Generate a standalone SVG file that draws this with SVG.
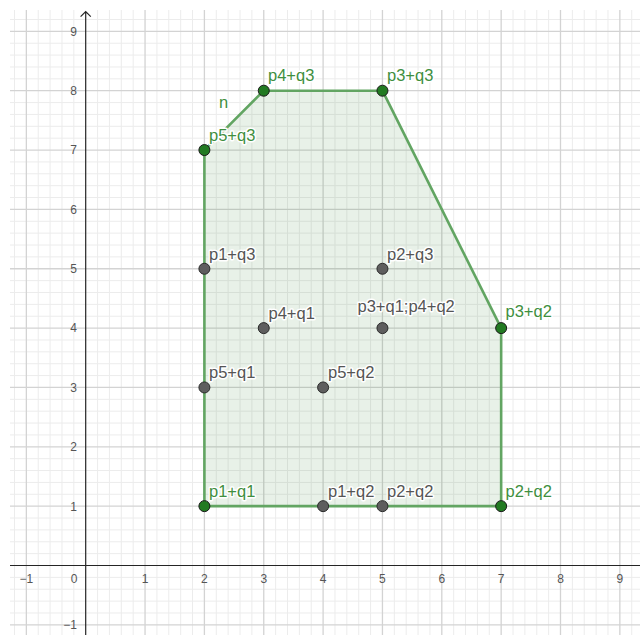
<svg xmlns="http://www.w3.org/2000/svg" width="640" height="635" viewBox="0 0 640 635">
<style>
.minor{stroke:#ececec;stroke-width:1;fill:none}
.major{stroke:#d3d3d3;stroke-width:1.3;fill:none}
.axis{stroke:#252525;stroke-width:1.2;fill:none}
.tick{font-family:"Liberation Sans",Arial,sans-serif;font-size:12px;fill:#555}
.tx{text-anchor:middle}
.ty{text-anchor:end}
.lbl{font-family:"Liberation Sans",Arial,sans-serif;font-size:16.5px;paint-order:stroke;stroke:#fff;stroke-width:3px;stroke-linejoin:round}
.lg{fill:#3f8f3f}
.lk{fill:#555}
.pg{fill:#227a22;stroke:#1a1a1a;stroke-width:1}
.pk{fill:#5e5e5e;stroke:#2a2a2a;stroke-width:1}
.edge{stroke:#62a562;stroke-width:2.6;fill:none;stroke-linejoin:round}
</style>
<rect width="640" height="635" fill="#fff"/>
<g id="grid">
<path class="minor" d="M14.48 10V635M38.22 10V635M50.09 10V635M61.96 10V635M73.83 10V635M97.57 10V635M109.44 10V635M121.31 10V635M133.18 10V635M156.92 10V635M168.79 10V635M180.66 10V635M192.53 10V635M216.27 10V635M228.14 10V635M240.01 10V635M251.88 10V635M275.62 10V635M287.49 10V635M299.36 10V635M311.23 10V635M334.97 10V635M346.84 10V635M358.71 10V635M370.58 10V635M394.32 10V635M406.19 10V635M418.06 10V635M429.93 10V635M453.67 10V635M465.54 10V635M477.41 10V635M489.28 10V635M513.02 10V635M524.89 10V635M536.76 10V635M548.63 10V635M572.37 10V635M584.24 10V635M596.11 10V635M607.98 10V635M631.72 10V635"/>
<path class="minor" d="M10 612.98H640M10 601.11H640M10 589.24H640M10 577.37H640M10 553.63H640M10 541.76H640M10 529.89H640M10 518.02H640M10 494.28H640M10 482.41H640M10 470.54H640M10 458.67H640M10 434.93H640M10 423.06H640M10 411.19H640M10 399.32H640M10 375.58H640M10 363.71H640M10 351.84H640M10 339.97H640M10 316.23H640M10 304.36H640M10 292.49H640M10 280.62H640M10 256.88H640M10 245.01H640M10 233.14H640M10 221.27H640M10 197.53H640M10 185.66H640M10 173.79H640M10 161.92H640M10 138.18H640M10 126.31H640M10 114.44H640M10 102.57H640M10 78.83H640M10 66.96H640M10 55.09H640M10 43.22H640M10 19.48H640"/>
<path class="major" d="M26.35 10V635M145.05 10V635M204.4 10V635M263.75 10V635M323.1 10V635M382.45 10V635M441.8 10V635M501.15 10V635M560.5 10V635M619.85 10V635"/>
<path class="major" d="M10 624.85H640M10 506.15H640M10 446.8H640M10 387.45H640M10 328.1H640M10 268.75H640M10 209.4H640M10 150.05H640M10 90.7H640M10 31.35H640"/>
</g>
<g id="axes">
<path class="axis" d="M10 565.5H640M85.7 635V11.5M80.6 16.6L85.7 11.5L90.8 16.6"/>
<text class="tick tx" x="26.35" y="582.5">−1</text>
<text class="tick tx" x="74" y="582.5">0</text>
<text class="tick tx" x="145.05" y="582.5">1</text>
<text class="tick tx" x="204.4" y="582.5">2</text>
<text class="tick tx" x="263.75" y="582.5">3</text>
<text class="tick tx" x="323.1" y="582.5">4</text>
<text class="tick tx" x="382.45" y="582.5">5</text>
<text class="tick tx" x="441.8" y="582.5">6</text>
<text class="tick tx" x="501.15" y="582.5">7</text>
<text class="tick tx" x="560.5" y="582.5">8</text>
<text class="tick tx" x="619.85" y="582.5">9</text>
<text class="tick ty" x="77" y="629.2">−1</text>
<text class="tick ty" x="77" y="510.5">1</text>
<text class="tick ty" x="77" y="451.1">2</text>
<text class="tick ty" x="77" y="391.8">3</text>
<text class="tick ty" x="77" y="332.4">4</text>
<text class="tick ty" x="77" y="273.1">5</text>
<text class="tick ty" x="77" y="213.7">6</text>
<text class="tick ty" x="77" y="154.4">7</text>
<text class="tick ty" x="77" y="95">8</text>
<text class="tick ty" x="77" y="35.7">9</text>
</g>
<g id="polygon">
<polygon points="204.4,506.15 501.15,506.15 501.15,328.1 382.45,90.7 263.75,90.7 204.4,150.05" fill="rgb(0,100,0)" fill-opacity="0.09" stroke="none"/>
</g>
<g id="connectors">
<path class="edge" d="M204.4 506.15H501.15V328.1L382.45 90.7H263.75L204.4 150.05Z"/>
</g>
<g id="label-n"><text class="lbl lg" x="219" y="108">n</text></g>
<g id="p1q3"><circle class="pk" cx="204.4" cy="268.75" r="5.5"/><text class="lbl lk" x="209" y="259.5">p1+q3</text></g>
<g id="p4q1"><circle class="pk" cx="263.75" cy="328.1" r="5.5"/><text class="lbl lk" x="268.5" y="318.8">p4+q1</text></g>
<g id="p5q1"><circle class="pk" cx="204.4" cy="387.45" r="5.5"/><text class="lbl lk" x="209" y="378.2">p5+q1</text></g>
<g id="p5q2"><circle class="pk" cx="323.1" cy="387.45" r="5.5"/><text class="lbl lk" x="328" y="378.2">p5+q2</text></g>
<g id="p2q3"><circle class="pk" cx="382.45" cy="268.75" r="5.5"/><text class="lbl lk" x="387" y="259.5">p2+q3</text></g>
<g id="p3q1p4q2"><circle class="pk" cx="382.45" cy="328.1" r="5.5"/><text class="lbl lk" x="357.5" y="312">p3+q1;p4+q2</text></g>
<g id="p1q2"><circle class="pk" cx="323.1" cy="506.15" r="5.5"/><text class="lbl lk" x="328" y="496.8">p1+q2</text></g>
<g id="p2q2b"><circle class="pk" cx="382.45" cy="506.15" r="5.5"/><text class="lbl lk" x="387" y="496.8">p2+q2</text></g>
<g id="p1q1"><circle class="pg" cx="204.4" cy="506.15" r="5.5"/><text class="lbl lg" x="209" y="496.8">p1+q1</text></g>
<g id="p2q2"><circle class="pg" cx="501.15" cy="506.15" r="5.5"/><text class="lbl lg" x="505.5" y="496.8">p2+q2</text></g>
<g id="p3q2"><circle class="pg" cx="501.15" cy="328.1" r="5.5"/><text class="lbl lg" x="505.5" y="317">p3+q2</text></g>
<g id="p3q3"><circle class="pg" cx="382.45" cy="90.7" r="5.5"/><text class="lbl lg" x="387" y="81">p3+q3</text></g>
<g id="p4q3"><circle class="pg" cx="263.75" cy="90.7" r="5.5"/><text class="lbl lg" x="268" y="81">p4+q3</text></g>
<g id="p5q3"><circle class="pg" cx="204.4" cy="150.05" r="5.5"/><text class="lbl lg" x="209" y="140.5">p5+q3</text></g>
</svg>
